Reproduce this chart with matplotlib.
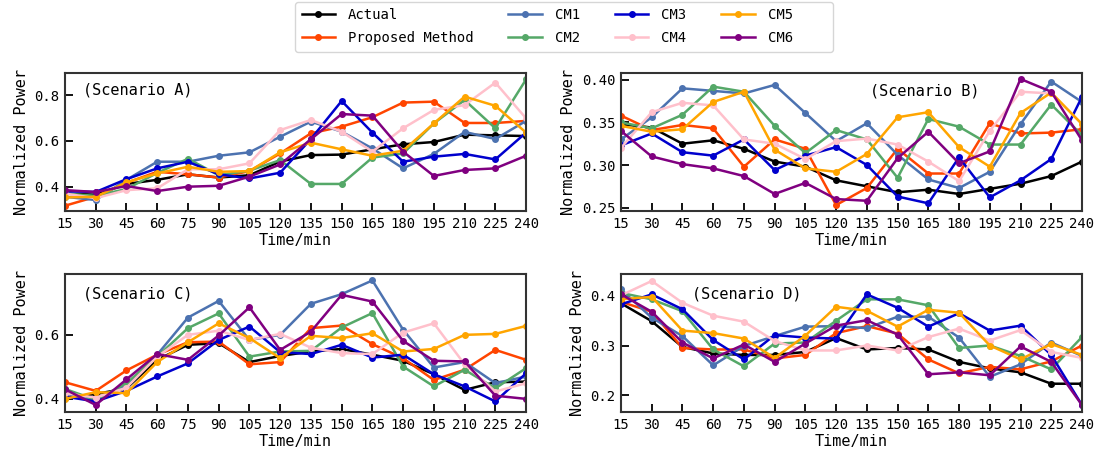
import matplotlib
matplotlib.use("Agg")
import matplotlib.pyplot as plt

plt.rcParams['font.family'] = ['DejaVu Sans Mono']

# time axis (min)
t = [15, 30, 45, 60, 75, 90, 105, 120, 135, 150, 165, 180, 195, 210, 225, 240]

names = ["Actual", "Proposed Method", "CM1", "CM2", "CM3", "CM4", "CM5    ", "CM6    "]
colors = ["black", "#FF4500", "#4C72B0", "#55A868", "#0000CD", "pink", "orange", "purple"]

# Scenario A
a_actual = [0.37, 0.365, 0.412, 0.43, 0.454, 0.44, 0.45, 0.51, 0.538, 0.54, 0.563, 0.585, 0.595, 0.627, 0.624, 0.621]
a_prop = [0.317, 0.356, 0.417, 0.465, 0.454, 0.44, 0.468, 0.545, 0.633, 0.662, 0.703, 0.767, 0.771, 0.678, 0.678, 0.687]
a_cm1 = [0.356, 0.342, 0.43, 0.509, 0.509, 0.535, 0.55, 0.618, 0.684, 0.64, 0.567, 0.48, 0.543, 0.639, 0.608, 0.687]
a_cm2 = [0.37, 0.36, 0.39, 0.46, 0.522, 0.45, 0.47, 0.516, 0.412, 0.412, 0.527, 0.545, 0.676, 0.778, 0.655, 0.868]
a_cm3 = [0.38, 0.377, 0.433, 0.48, 0.509, 0.454, 0.436, 0.461, 0.608, 0.774, 0.636, 0.509, 0.531, 0.543, 0.519, 0.636]
a_cm4 = [0.37, 0.35, 0.385, 0.393, 0.476, 0.476, 0.502, 0.647, 0.691, 0.64, 0.553, 0.655, 0.735, 0.756, 0.854, 0.698]
a_cm5 = [0.353, 0.356, 0.419, 0.458, 0.487, 0.465, 0.468, 0.55, 0.592, 0.563, 0.535, 0.557, 0.676, 0.793, 0.753, 0.636]
a_cm6 = [0.385, 0.377, 0.403, 0.381, 0.40, 0.404, 0.444, 0.497, 0.607, 0.717, 0.71, 0.553, 0.447, 0.473, 0.48, 0.535]

# Scenario B
b_actual = [0.348, 0.344, 0.325, 0.329, 0.319, 0.304, 0.298, 0.282, 0.275, 0.268, 0.271, 0.266, 0.272, 0.278, 0.287, 0.304]
b_prop = [0.358, 0.341, 0.347, 0.343, 0.298, 0.33, 0.319, 0.253, 0.273, 0.319, 0.29, 0.29, 0.349, 0.337, 0.338, 0.342]
b_cm1 = [0.33, 0.356, 0.39, 0.387, 0.384, 0.394, 0.361, 0.328, 0.349, 0.312, 0.283, 0.273, 0.292, 0.348, 0.398, 0.374]
b_cm2 = [0.35, 0.343, 0.359, 0.392, 0.386, 0.346, 0.314, 0.341, 0.33, 0.285, 0.354, 0.345, 0.324, 0.324, 0.371, 0.335]
b_cm3 = [0.323, 0.337, 0.315, 0.311, 0.33, 0.294, 0.311, 0.321, 0.30, 0.263, 0.255, 0.309, 0.262, 0.282, 0.307, 0.38]
b_cm4 = [0.32, 0.362, 0.373, 0.37, 0.33, 0.325, 0.307, 0.328, 0.331, 0.324, 0.304, 0.281, 0.34, 0.386, 0.384, 0.348]
b_cm5 = [0.346, 0.339, 0.342, 0.374, 0.386, 0.318, 0.296, 0.292, 0.313, 0.356, 0.362, 0.321, 0.298, 0.361, 0.385, 0.348]
b_cm6 = [0.34, 0.31, 0.301, 0.296, 0.287, 0.266, 0.279, 0.26, 0.258, 0.308, 0.339, 0.302, 0.316, 0.401, 0.386, 0.329]

# Scenario C
c_actual = [0.404, 0.415, 0.433, 0.522, 0.569, 0.574, 0.515, 0.534, 0.548, 0.556, 0.538, 0.519, 0.477, 0.428, 0.452, 0.454]
c_prop = [0.452, 0.425, 0.489, 0.538, 0.577, 0.579, 0.508, 0.515, 0.621, 0.629, 0.571, 0.527, 0.459, 0.491, 0.553, 0.522]
c_cm1 = [0.418, 0.392, 0.444, 0.538, 0.654, 0.706, 0.584, 0.60, 0.697, 0.727, 0.77, 0.616, 0.498, 0.515, 0.449, 0.47]
c_cm2 = [0.431, 0.397, 0.449, 0.532, 0.621, 0.667, 0.532, 0.548, 0.55, 0.623, 0.668, 0.501, 0.439, 0.491, 0.433, 0.496]
c_cm3 = [0.407, 0.392, 0.425, 0.47, 0.511, 0.584, 0.626, 0.546, 0.54, 0.569, 0.529, 0.538, 0.477, 0.439, 0.392, 0.48]
c_cm4 = [0.418, 0.404, 0.435, 0.532, 0.60, 0.613, 0.584, 0.603, 0.56, 0.543, 0.54, 0.607, 0.636, 0.508, 0.423, 0.449]
c_cm5 = [0.40, 0.421, 0.418, 0.515, 0.577, 0.636, 0.59, 0.527, 0.597, 0.59, 0.605, 0.548, 0.556, 0.60, 0.603, 0.628]
c_cm6 = [0.43, 0.381, 0.461, 0.54, 0.522, 0.598, 0.686, 0.553, 0.61, 0.725, 0.704, 0.581, 0.519, 0.517, 0.41, 0.40]

# Scenario D
d_actual = [0.385, 0.349, 0.297, 0.284, 0.281, 0.281, 0.287, 0.315, 0.292, 0.295, 0.292, 0.267, 0.254, 0.246, 0.223, 0.223]
d_prop = [0.388, 0.368, 0.295, 0.292, 0.292, 0.274, 0.281, 0.325, 0.339, 0.324, 0.272, 0.244, 0.257, 0.252, 0.268, 0.30]
d_cm1 = [0.413, 0.356, 0.319, 0.26, 0.299, 0.319, 0.338, 0.339, 0.335, 0.358, 0.358, 0.316, 0.237, 0.262, 0.306, 0.279]
d_cm2 = [0.406, 0.393, 0.369, 0.292, 0.258, 0.304, 0.306, 0.35, 0.393, 0.393, 0.381, 0.295, 0.30, 0.279, 0.252, 0.317]
d_cm3 = [0.383, 0.403, 0.373, 0.311, 0.272, 0.321, 0.316, 0.314, 0.403, 0.376, 0.338, 0.365, 0.33, 0.34, 0.281, 0.18]
d_cm4 = [0.401, 0.43, 0.386, 0.36, 0.348, 0.309, 0.29, 0.29, 0.30, 0.29, 0.317, 0.334, 0.31, 0.331, 0.287, 0.275]
d_cm5 = [0.393, 0.398, 0.33, 0.325, 0.314, 0.275, 0.32, 0.378, 0.37, 0.338, 0.372, 0.366, 0.30, 0.272, 0.303, 0.281]
d_cm6 = [0.403, 0.368, 0.306, 0.274, 0.302, 0.267, 0.304, 0.34, 0.351, 0.322, 0.242, 0.246, 0.24, 0.298, 0.267, 0.18]

scenarios = [
    ("(Scenario A)", [a_actual, a_prop, a_cm1, a_cm2, a_cm3, a_cm4, a_cm5, a_cm6]),
    ("(Scenario B)", [b_actual, b_prop, b_cm1, b_cm2, b_cm3, b_cm4, b_cm5, b_cm6]),
    ("(Scenario C)", [c_actual, c_prop, c_cm1, c_cm2, c_cm3, c_cm4, c_cm5, c_cm6]),
    ("(Scenario D)", [d_actual, d_prop, d_cm1, d_cm2, d_cm3, d_cm4, d_cm5, d_cm6]),
]

ylims = [(0.294, 0.896), (0.246, 0.408), (0.359, 0.79), (0.166, 0.444)]
yticks = [[0.4, 0.6, 0.8], [0.25, 0.30, 0.35, 0.40], [0.4, 0.6], [0.2, 0.3, 0.4]]
yfmt = ["%.1f", "%.2f", "%.1f", "%.1f"]
text_pos = [(0.04, 0.877), (0.54, 0.87), (0.04, 0.855), (0.154, 0.855)]
rects = [
    [0.0593, 0.5393, 0.4207, 0.3013],
    [0.5666, 0.5393, 0.4206, 0.3013],
    [0.0593, 0.1004, 0.4207, 0.3013],
    [0.5666, 0.1004, 0.4206, 0.3013],
]

fig = plt.figure(figsize=(10.96, 4.58), dpi=100)

handles = []
for k, (title, series) in enumerate(scenarios):
    ax = fig.add_axes(rects[k])
    for i, vals in enumerate(series):
        ln, = ax.plot(t, vals, color=colors[i], marker='o', markersize=4,
                      linewidth=1.8, label=names[i])
        if k == 0:
            handles.append(ln)
    ax.set_xlim(15, 240)
    ax.set_xticks(t)
    ax.set_ylim(*ylims[k])
    ax.set_yticks(yticks[k])
    ax.set_yticklabels([yfmt[k] % v for v in yticks[k]])
    ax.tick_params(direction='in', length=6, width=1.3, labelsize=10,
                   top=False, right=False, pad=4)
    for s in ax.spines.values():
        s.set_linewidth(1.5)
        s.set_color('#333333')
    ax.set_xlabel("Time/min", fontsize=11, labelpad=2)
    ax.set_ylabel("Normalized Power", fontsize=11)
    ax.text(text_pos[k][0], text_pos[k][1], title, transform=ax.transAxes,
            fontsize=11, va='center', ha='left')

fig.legend(handles=handles, loc='upper center', bbox_to_anchor=(0.5146, 1.0),
           ncol=4, fontsize=10, handlelength=2.4, handletextpad=0.95,
           columnspacing=2.5, frameon=True, fancybox=True, edgecolor='#cccccc',
           borderpad=0.45, labelspacing=0.65, borderaxespad=0.15)

fig.savefig("out.png", dpi=100)
